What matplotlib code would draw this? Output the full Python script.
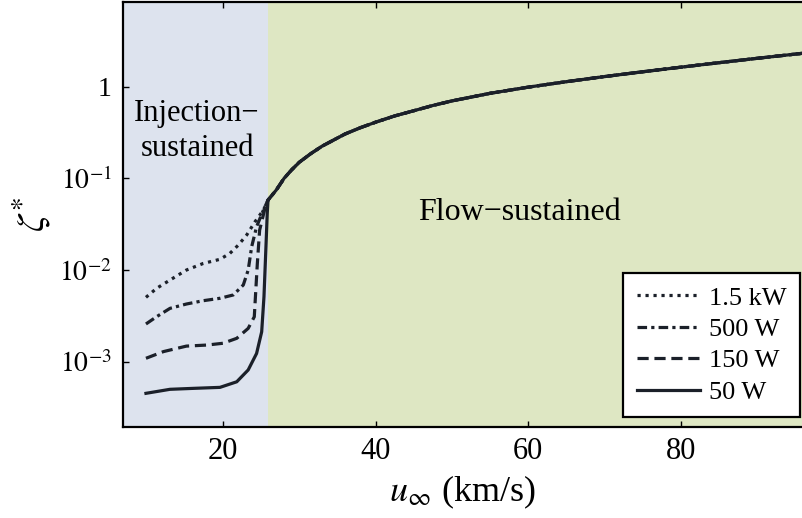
"""ζ* 随来流速度 u∞ 的变化：注入维持区 / 流动维持区，四种功率。"""

import matplotlib

matplotlib.use("Agg")
import matplotlib.pyplot as plt
from matplotlib.ticker import FixedLocator, NullLocator

# ============================================================
# 数据（读自计算结果，log 轴）
# ============================================================
U_SPLIT = 25.9  # 注入维持 → 流动维持 的分界速度 (km/s)

# 流动维持段：四条曲线重合
u_flow = [25.9, 27, 28, 29, 30, 31.5, 33, 36, 38, 40, 42.5, 45, 47.5, 50,
          55, 60, 65, 70, 75, 80, 85, 90, 96]
z_flow = [0.058, 0.075, 0.10, 0.124, 0.15, 0.186, 0.225, 0.305, 0.357, 0.41,
          0.48, 0.547, 0.624, 0.70, 0.847, 0.989, 1.135, 1.29, 1.455, 1.633,
          1.828, 2.04, 2.317]

# 注入维持段
u_15kw = [9.9, 11.3, 13.05, 15.2, 17.4, 19.6, 20.9, 22.0, 23.1, 24.2, 25.3]
z_15kw = [5.04e-3, 6.32e-3, 7.78e-3, 1.0e-2, 1.18e-2, 1.31e-2, 1.52e-2,
          1.87e-2, 2.41e-2, 3.37e-2, 4.52e-2]

u_500w = [9.9, 11.3, 13.05, 15.2, 17.4, 19.6, 21.35, 22.66, 23.3, 23.76,
          24.4, 25.3]
z_500w = [2.58e-3, 3.10e-3, 3.82e-3, 4.26e-3, 4.63e-3, 4.92e-3, 5.35e-3,
          6.87e-3, 1.0e-2, 1.80e-2, 2.97e-2, 4.52e-2]

u_150w = [9.9, 12.2, 15.2, 17.9, 20.0, 21.8, 23.3, 24.1, 24.3, 24.5, 24.8,
          25.5]
z_150w = [1.09e-3, 1.29e-3, 1.48e-3, 1.52e-3, 1.59e-3, 1.80e-3, 2.31e-3,
          3.09e-3, 6.05e-3, 1.18e-2, 2.73e-2, 4.71e-2]

u_50w = [9.9, 13.05, 16.1, 19.6, 21.8, 23.3, 24.4, 25.07, 25.37, 25.63, 25.8]
z_50w = [4.52e-4, 5.0e-4, 5.12e-4, 5.25e-4, 6.04e-4, 8.13e-4, 1.23e-3,
         2.12e-3, 5.12e-3, 1.80e-2, 4.16e-2]

labels = ["1.5 kW", "500 W", "150 W", "50 W"]
y_ticks = [1e-3, 1e-2, 1e-1, 1.0]
y_ticklabels = [r"$10^{-3}$", r"$10^{-2}$", r"$10^{-1}$", "1"]
x_ticks = [20, 40, 60, 80]

# ============================================================
# 画图
# ============================================================
plt.rcParams["font.family"] = ["Liberation Serif", "DejaVu Serif"]
plt.rcParams["mathtext.fontset"] = "stix"

LINE = "#1b2029"
BLUE = "#dde3ee"
GREEN = "#dee7c3"

fig = plt.figure(figsize=(8.02, 5.18), dpi=100)
ax = fig.add_axes([123 / 802, 91 / 518, 679 / 802, 425 / 518])

X_MIN, X_MAX = 6.89, 95.9
ax.axvspan(X_MIN, U_SPLIT, color=BLUE, lw=0, zorder=0)
ax.axvspan(U_SPLIT, X_MAX, color=GREEN, lw=0, zorder=0)

styles = [
    (0, (1.0, 1.5)),
    (0, (3.0, 1.3, 1.0, 1.3)),
    (0, (3.5, 1.8)),
    "-",
]
series = [(u_15kw, z_15kw), (u_500w, z_500w), (u_150w, z_150w), (u_50w, z_50w)]

for (u, z), ls, lab in zip(series, styles, labels):
    ax.plot(u + u_flow, z + z_flow, ls=ls, color=LINE, lw=2.3,
            label=lab, zorder=3, solid_joinstyle="round")

ax.set_yscale("log")
ax.set_xlim(X_MIN, X_MAX)
ax.set_ylim(1.94e-4, 8.4)

ax.yaxis.set_major_locator(FixedLocator(y_ticks))
ax.set_yticklabels(y_ticklabels)
ax.yaxis.set_minor_locator(NullLocator())
ax.set_xticks(x_ticks)

ax.tick_params(direction="in", length=4, width=1.0, top=True, right=False)
ax.tick_params(axis="x", labelsize=22, pad=7)
ax.tick_params(axis="y", labelsize=20, pad=8)
for side in ("left", "top", "bottom"):
    ax.spines[side].set_linewidth(1.6)
ax.spines["right"].set_visible(False)

ax.set_xlabel(r"$u_{\infty}$ (km/s)", fontsize=26, labelpad=6)
ax.set_ylabel(r"$\zeta^{*}$", fontsize=28, labelpad=4)

ax.text(16.6, 0.33, "Injection\u2212\nsustained", ha="center", va="center",
        fontsize=22, linespacing=1.25, zorder=4)
ax.text(58.9, 0.042, "Flow\u2212sustained", ha="center", va="center",
        fontsize=23, zorder=4)

leg = ax.legend(loc="lower right", bbox_to_anchor=(0.997, 0.0235),
                borderaxespad=0, fontsize=19, handlelength=2.4,
                handletextpad=0.35, labelspacing=0.3, borderpad=0.5,
                fancybox=False, framealpha=1, edgecolor="black")
leg.get_frame().set_linewidth(1.6)

fig.savefig("out.png", dpi=100)
